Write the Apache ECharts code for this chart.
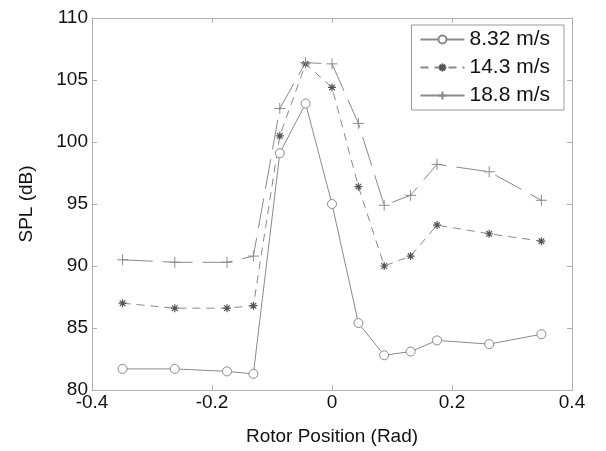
<!DOCTYPE html>
<html>
<head>
<meta charset="utf-8">
<script src="https://cdn.jsdelivr.net/npm/echarts@6/dist/echarts.min.js"></script>
<style>
  html, body { margin: 0; padding: 0; background: #fff; }
  #chart { width: 606px; height: 451px; }
</style>
</head>
<body>
<div id="chart"></div>
<script>
// Rotor position (rad) of each measurement
const rotorPos = [-0.349, -0.262, -0.175, -0.131, -0.087, -0.044, 0, 0.044, 0.087, 0.131, 0.175, 0.262, 0.349];
// Sound pressure level (dB) at three wind speeds
const spl832 = [81.7, 81.7, 81.5, 81.3, 99.1, 103.1, 95.0, 85.4, 82.8, 83.1, 84.0, 83.7, 84.5];
const spl143 = [87.0, 86.6, 86.6, 86.8, 100.5, 106.3, 104.4, 96.4, 90.0, 90.8, 93.3, 92.6, 92.0];
const spl188 = [90.5, 90.3, 90.3, 90.8, 102.7, 106.4, 106.3, 101.5, 94.9, 95.7, 98.2, 97.6, 95.3];
const seriesNames = ['8.32 m/s', '14.3 m/s', '18.8 m/s'];
const xTicks = [-0.4, -0.2, 0, 0.2, 0.4];
const yTicks = [80, 85, 90, 95, 100, 105, 110];

const pairs = (ys) => rotorPos.map((x, i) => [x, ys[i]]);

const FONT = '"Liberation Sans", Arial, sans-serif';
const LINE = '#8a8a8a';
const AXIS = '#b0b0b0';

// marker shapes: asterisk and plus drawn as stroked paths
const starPath = 'path://M5,0L5,10M0,5L10,5M1.5,1.5L8.5,8.5M8.5,1.5L1.5,8.5';
const plusPath = 'path://M5,0L5,10M0,5L10,5';

const chart = echarts.init(document.getElementById('chart'), null, { renderer: 'canvas' });

const baseX = {
  type: 'value', min: -0.4, max: 0.4, interval: 0.2,
  splitLine: { show: false },
  axisLine: { show: true, onZero: false, lineStyle: { color: AXIS, width: 1 } },
  axisTick: { show: true, inside: true, length: 5, lineStyle: { color: AXIS } }
};
const baseY = {
  type: 'value', min: 80, max: 110, interval: 5,
  splitLine: { show: false },
  axisLine: { show: true, onZero: false, lineStyle: { color: AXIS, width: 1 } },
  axisTick: { show: true, inside: true, length: 5, lineStyle: { color: AXIS } }
};

chart.setOption({
  animation: false,
  backgroundColor: '#fff',
  grid: { left: 92, right: 34, top: 18, bottom: 60, containLabel: false },
  xAxis: [
    Object.assign({}, baseX, {
      position: 'bottom',
      name: 'Rotor Position (Rad)', nameLocation: 'middle', nameGap: 37,
      nameTextStyle: { color: '#111', fontSize: 19, fontFamily: FONT },
      axisLabel: {
        color: '#111', fontSize: 19, fontFamily: FONT, margin: 3,
        formatter: (v) => { const t = xTicks.find(k => Math.abs(k - v) < 1e-9); return t === undefined ? '' : String(t); }
      }
    }),
    Object.assign({}, baseX, { position: 'top', axisLabel: { show: false } })
  ],
  yAxis: [
    Object.assign({}, baseY, {
      position: 'left',
      name: 'SPL (dB)', nameLocation: 'middle', nameGap: 56, nameRotate: 90,
      nameTextStyle: { color: '#111', fontSize: 19, fontFamily: FONT },
      axisLabel: {
        color: '#111', fontSize: 19, fontFamily: FONT, margin: 4,
        formatter: (v) => yTicks.includes(v) ? String(v) : ''
      }
    }),
    Object.assign({}, baseY, { position: 'right', axisLabel: { show: false } })
  ],
  legend: {
    right: 42, top: 25,
    orient: 'vertical',
    itemWidth: 44, itemHeight: 10, itemGap: 7,
    padding: [4, 14, 4, 8],
    backgroundColor: '#fff',
    borderColor: '#999', borderWidth: 1,
    textStyle: { color: '#111', fontSize: 21, fontFamily: FONT },
    data: [
      { name: seriesNames[0] },
      { name: seriesNames[1] },
      { name: seriesNames[2], lineStyle: { type: 'solid' } }
    ]
  },
  series: [
    {
      name: seriesNames[0], type: 'line', data: pairs(spl832),
      symbol: 'circle', symbolSize: 9,
      itemStyle: { color: '#fff', borderColor: LINE, borderWidth: 1 },
      lineStyle: { color: LINE, width: 1, type: 'solid' }
    },
    {
      name: seriesNames[1], type: 'line', data: pairs(spl143),
      symbol: starPath, symbolSize: 8,
      itemStyle: { color: 'none', borderColor: '#555', borderWidth: 1.2 },
      lineStyle: { color: LINE, width: 1, type: [8, 6] }
    },
    {
      name: seriesNames[2], type: 'line', data: pairs(spl188),
      symbol: plusPath, symbolSize: 11,
      itemStyle: { color: 'none', borderColor: LINE, borderWidth: 1 },
      lineStyle: { color: LINE, width: 1, type: [30, 10] }
    }
  ]
});
</script>
</body>
</html>
